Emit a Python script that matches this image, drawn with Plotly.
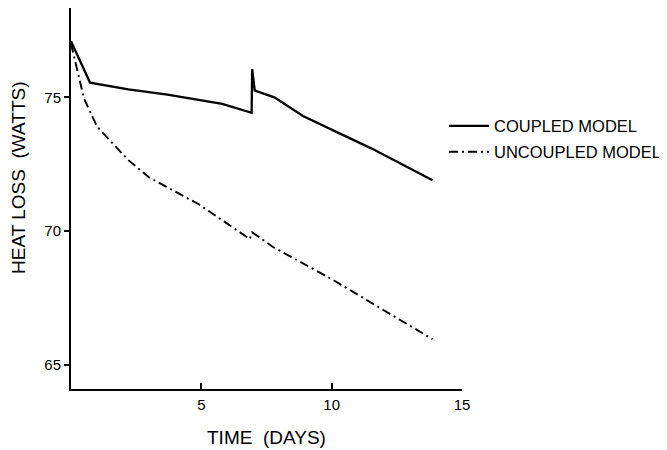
import plotly.graph_objects as go

coupled_t = [0.0, 0.73, 2.2, 3.7, 5.8, 6.93, 6.95, 7.05, 7.8, 8.9, 10.3, 11.5, 13.87]
coupled_q = [77.1, 75.55, 75.3, 75.1, 74.75, 74.42, 76.05, 75.25, 75.0, 74.3, 73.65, 73.1, 71.9]

uncoupled_t = [0.0, 0.5, 1.0, 2.2, 3.0, 4.9, 6.86, 6.95, 7.75, 10.0, 13.87]
uncoupled_q = [77.0, 74.95, 73.9, 72.65, 72.0, 71.0, 69.7, 69.95, 69.4, 68.2, 65.95]

x_ticks = [5, 10, 15]
y_ticks = [65, 70, 75]

fig = go.Figure()
fig.add_trace(go.Scatter(x=coupled_t, y=coupled_q, mode="lines", name="COUPLED MODEL",
                         line=dict(color="black", width=2.3), legend="legend"))
fig.add_trace(go.Scatter(x=uncoupled_t, y=uncoupled_q, mode="lines", name="UNCOUPLED MODEL",
                         line=dict(color="black", width=1.9, dash="9px,4px,2px,4px"),
                         legend="legend2"))

font = "Liberation Sans, Arial, Helvetica, sans-serif"
leg_common = dict(xanchor="left", yanchor="middle", font=dict(size=16.5),
                  bgcolor="rgba(0,0,0,0)", itemwidth=40)
fig.update_layout(
    width=659, height=442,
    margin=dict(l=63, r=205, t=0, b=61, autoexpand=False),
    paper_bgcolor="white", plot_bgcolor="white",
    font=dict(family=font, size=15, color="black"),
    showlegend=True,
    legend=dict(x=0.954, y=0.69, **leg_common),
    legend2=dict(x=0.954, y=0.622, **leg_common),
    xaxis=dict(range=[0, 15], tickvals=x_ticks, ticks="inside", ticklen=6,
               showline=True, linecolor="black", linewidth=2, showgrid=False,
               zeroline=False, tickcolor="black", tickwidth=1.5, automargin=False,
               ticklabelstandoff=1),
    yaxis=dict(range=[64.09, 78.34], tickvals=y_ticks, ticks="outside", ticklen=5,
               showline=True, linecolor="black", linewidth=2, showgrid=False,
               zeroline=False, tickcolor="black", tickwidth=1.5, automargin=False),
    annotations=[
        dict(text="TIME\u00a0 (DAYS)", xref="paper", yref="paper", x=0.5, y=-0.126,
             xanchor="center", yanchor="middle", showarrow=False, font=dict(size=19)),
        dict(text="HEAT LOSS\u00a0 (WATTS)", xref="paper", yref="paper", x=-0.133, y=0.554,
             xanchor="center", yanchor="middle", showarrow=False, textangle=-90,
             font=dict(size=19)),
    ],
)

fig.write_html("out.html")
